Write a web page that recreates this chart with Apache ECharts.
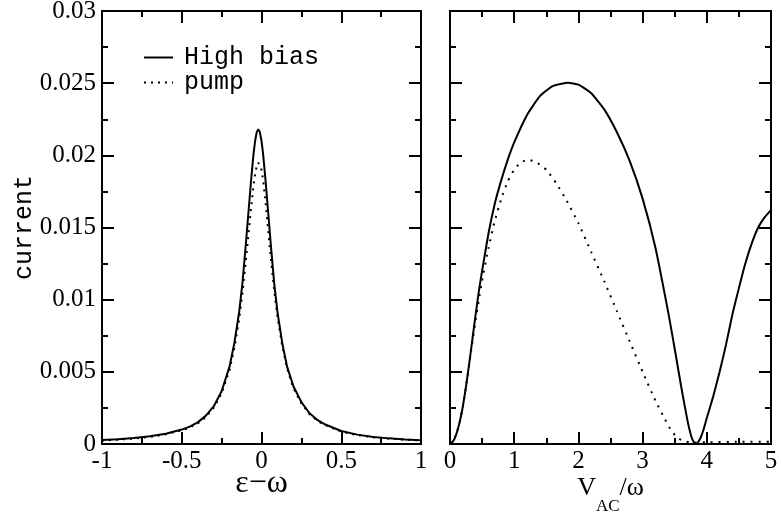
<!DOCTYPE html>
<html><head><meta charset="utf-8">
<script src="https://cdn.jsdelivr.net/npm/echarts@6/dist/echarts.min.js"></script>
<style>html,body{margin:0;padding:0;background:#fff}#c{width:781px;height:518px}</style>
</head><body><div id="c"></div>
<script>
// ---- data ----
const leftX = [-1,-0.9,-0.8,-0.7,-0.6,-0.5,-0.45,-0.4,-0.35,-0.3,-0.25,-0.2,-0.17,-0.14,-0.12,-0.1,-0.08,-0.065,-0.05,-0.04,-0.03,-0.02,-0.01,0,0.01,0.025,0.04,0.06,0.08,0.1,0.13,0.16,0.2,0.25,0.3,0.35,0.4,0.5,0.6,0.7,0.8,0.9,1];
const leftHigh = [0.00027,0.00033,0.00041,0.00053,0.00071,0.00100,0.00120,0.00150,0.00195,0.00260,0.00365,0.00538,0.00700,0.00915,0.01110,0.01360,0.01630,0.01830,0.02010,0.02100,0.02160,0.02180,0.02160,0.02100,0.02010,0.01830,0.01630,0.01360,0.01110,0.00915,0.00700,0.00538,0.00400,0.00290,0.00215,0.00167,0.00135,0.00090,0.00065,0.00049,0.00039,0.00032,0.00026];
const leftPump = [0.00024,0.00030,0.00038,0.00049,0.00067,0.00095,0.00114,0.00143,0.00186,0.00250,0.00350,0.00515,0.00665,0.00865,0.01040,0.01250,0.01470,0.01640,0.01790,0.01870,0.01925,0.01950,0.01945,0.01900,0.01830,0.01680,0.01500,0.01270,0.01060,0.00880,0.00680,0.00525,0.00385,0.00282,0.00208,0.00161,0.00130,0.00086,0.00062,0.00047,0.00037,0.00030,0.00024];

const rightHighX = [0,0.05,0.1,0.15,0.2,0.25,0.3,0.35,0.4,0.45,0.5,0.6,0.7,0.8,0.9,1.0,1.2,1.4,1.6,1.84,2.0,2.2,2.4,2.6,2.8,3.0,3.2,3.4,3.5,3.6,3.7,3.76,3.8,3.83,3.86,3.9,3.95,4.0,4.1,4.2,4.3,4.4,4.5,4.6,4.7,4.8,4.9,5.0];
const rightHigh = [0,0.0002,0.0007,0.0015,0.0026,0.0040,0.0056,0.0073,0.0090,0.0106,0.0120,0.0146,0.0167,0.0183,0.0197,0.0209,0.0228,0.0241,0.0248,0.02503,0.0249,0.0243,0.0232,0.0216,0.0196,0.0170,0.0136,0.0091,0.0066,0.0040,0.0016,0.0005,0.0001,0,0.0001,0.0004,0.0010,0.0018,0.0033,0.0050,0.0069,0.0090,0.0108,0.0125,0.0139,0.0150,0.0157,0.0162];
const rightPumpX = [0,0.05,0.1,0.15,0.2,0.25,0.3,0.35,0.4,0.45,0.5,0.6,0.7,0.8,0.9,1.0,1.1,1.22,1.35,1.5,1.65,1.8,2.0,2.2,2.4,2.6,2.8,3.0,3.2,3.35,3.45,3.55,3.65,3.75,4.0,4.5,5.0];
const rightPump = [0,0.0002,0.0007,0.0015,0.0026,0.0040,0.0055,0.0071,0.0086,0.0100,0.0113,0.0136,0.0155,0.0170,0.0182,0.0190,0.0195,0.0197,0.0195,0.0190,0.0181,0.0170,0.0153,0.0133,0.0113,0.0092,0.0071,0.0050,0.0030,0.0017,0.0009,0.0004,0.0002,0.0001,0.00012,0.00015,0.00015];

const yTickValues = [0,0.005,0.01,0.015,0.02,0.025,0.03];
const yTickLabels = ['0','0.005','0.01','0.015','0.02','0.025','0.03'];
const leftXTickValues = [-1,-0.5,0,0.5,1];
const leftXTickLabels = ['-1','-0.5','0','0.5','1'];
const rightXTickValues = [0,1,2,3,4,5];
const rightXTickLabels = ['0','1','2','3','4','5'];
const seriesNames = ['High bias','pump'];

// ---- chart ----
const zip = (xs, ys) => xs.map((x, i) => [x, ys[i]]);
const lookup = (vals, labs) => v => { const i = vals.findIndex(t => Math.abs(t - v) < 1e-9); return i >= 0 ? labs[i] : ''; };
const SERIF = "'Liberation Serif','Times New Roman',serif";
const MONO = "'Liberation Mono','Courier New',monospace";
const lineS = {color:'#000', width:2};
const tick = len => ({show:true, inside:true, length:len, lineStyle:{color:'#000', width:2}});

function xAx(grid, pos, min, max, interval, opts) {
  opts = opts || {};
  return {type:'value', gridIndex:grid, position:pos, min, max, interval,
    axisLine:{show:true, onZero:false, lineStyle:lineS},
    axisTick:tick(opts.minor ? 6 : 12), splitLine:{show:false},
    axisLabel:{show:!!opts.labels, margin:5, color:'#000', fontFamily:SERIF, fontSize:25,
      formatter: opts.labels ? lookup(opts.labels[0], opts.labels[1]) : ''},
    name: opts.name || '', nameLocation:'middle', nameGap: opts.nameGap || 0,
    nameMoveOverlap:false,
    nameTextStyle: opts.nameStyle || {}};
}
function yAx(grid, pos, opts) {
  opts = opts || {};
  return {type:'value', gridIndex:grid, position:pos, min:0, max:0.03, interval: opts.minor ? 0.0025 : 0.005,
    axisLine:{show:true, onZero:false, lineStyle:lineS},
    axisTick:tick(opts.minor ? 6 : 12), splitLine:{show:false},
    axisLabel:{show:!!opts.labels, margin:6, color:'#000', fontFamily:SERIF, fontSize:25, formatter:lookup(yTickValues, yTickLabels)},
    name: opts.name || '', nameLocation:'middle', nameGap:65, nameRotate:90, nameMoveOverlap:false,
    nameTextStyle:{color:'#000', fontFamily:MONO, fontSize:25}};
}

const G0 = {left:102, top:11, width:319, height:433, outerBoundsMode:'none', containLabel:false};
const G1 = {left:450, top:11, width:321, height:433, outerBoundsMode:'none', containLabel:false};

const option = {
  backgroundColor:'#fff',
  animation:false,
  grid:[ G0, G1, Object.assign({}, G0), Object.assign({}, G1) ],
  xAxis:[
    xAx(0,'bottom',-1,1,0.5,{labels:[leftXTickValues,leftXTickLabels], name:'ε−ω', nameGap:24,
      nameStyle:{color:'#000', fontFamily:SERIF, fontSize:32}}),
    xAx(0,'top',-1,1,0.5),
    xAx(1,'bottom',0,5,1,{labels:[rightXTickValues,rightXTickLabels], name:'{v|V}{s|AC}{w|/ω}', nameGap:29,
      nameStyle:{color:'#000', fontFamily:SERIF,
      rich:{v:{fontFamily:SERIF, fontSize:26, lineHeight:30, color:'#000'},
            s:{fontFamily:SERIF, fontSize:17, lineHeight:17, padding:[38,0,0,0], color:'#000'},
            w:{fontFamily:SERIF, fontSize:26, lineHeight:30, color:'#000'}}}}),
    xAx(1,'top',0,5,1),
    // minor ticks (duplicate grids)
    xAx(2,'bottom',-1,1,0.25,{minor:true}),
    xAx(2,'top',-1,1,0.25,{minor:true}),
    xAx(3,'bottom',0,5,0.5,{minor:true}),
    xAx(3,'top',0,5,0.5,{minor:true})
  ],
  yAxis:[
    yAx(0,'left',{labels:true, name:'current'}),
    yAx(0,'right'),
    yAx(1,'left'),
    yAx(1,'right'),
    yAx(2,'left',{minor:true}),
    yAx(2,'right',{minor:true}),
    yAx(3,'left',{minor:true}),
    yAx(3,'right',{minor:true})
  ],
  legend:{
    orient:'vertical', left:143, top:45, padding:0, itemWidth:29, itemHeight:14, itemGap:0,
    data:seriesNames,
    itemStyle:{color:'rgba(0,0,0,0)', borderWidth:0, opacity:0},
    textStyle:{fontFamily:MONO, fontSize:25, color:'#000', lineHeight:24, padding:[0,0,0,6]}
  },
  series:[
    {name:seriesNames[0], type:'line', xAxisIndex:0, yAxisIndex:0, data:zip(leftX,leftHigh), showSymbol:false, symbol:'none', lineStyle:{color:'#000', width:2}, itemStyle:{color:'#000'}},
    {name:seriesNames[1], type:'line', xAxisIndex:0, yAxisIndex:0, data:zip(leftX,leftPump), showSymbol:false, symbol:'none', lineStyle:{color:'#000', width:2, type:[2,5]}, itemStyle:{color:'#000'}},
    {name:seriesNames[0], type:'line', xAxisIndex:2, yAxisIndex:2, data:zip(rightHighX,rightHigh), smooth:0.15, showSymbol:false, symbol:'none', lineStyle:{color:'#000', width:2}, itemStyle:{color:'#000'}},
    {name:seriesNames[1], type:'line', xAxisIndex:2, yAxisIndex:2, data:zip(rightPumpX,rightPump), smooth:0.15, showSymbol:false, symbol:'none', lineStyle:{color:'#000', width:2, type:[2,6]}, itemStyle:{color:'#000'}}
  ]
};
const chart = echarts.init(document.getElementById('c'), null, {renderer:'canvas'});
chart.setOption(option);
</script>
</body></html>
